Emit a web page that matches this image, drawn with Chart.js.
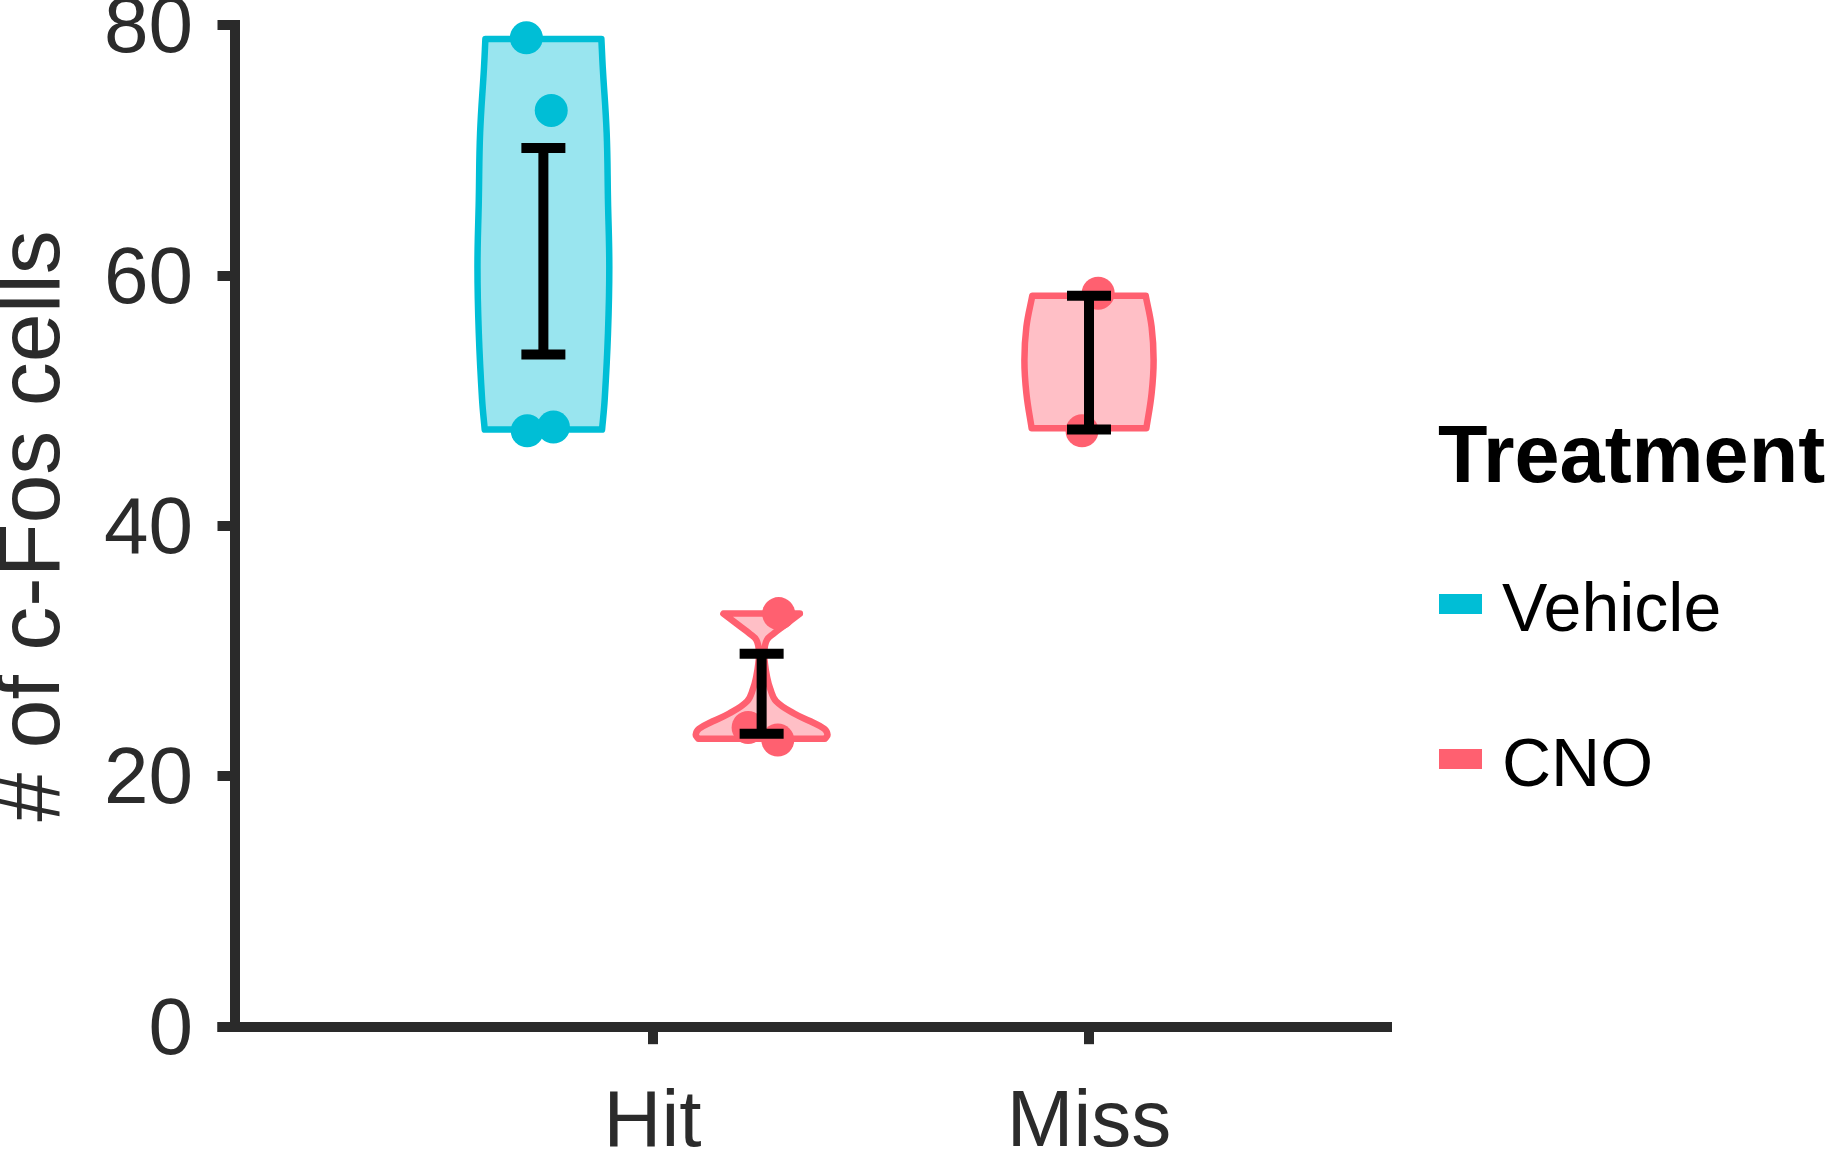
<!DOCTYPE html>
<html>
<head>
<meta charset="utf-8">
<script src="https://cdn.jsdelivr.net/npm/chart.js@4.4.1/dist/chart.umd.min.js"></script>
<style>
  html, body { margin: 0; padding: 0; background: #ffffff; overflow: hidden; }
  #wrap { width: 1825px; height: 1151px; position: relative; }
  canvas { display: block; }
</style>
</head>
<body>
<div id="wrap"><canvas id="chart" width="1825" height="1151"></canvas></div>
<script>
// ---------------- data ----------------
const categories = ['Hit', 'Miss'];
const treatments = ['Vehicle', 'CNO'];
const yTicks = [0, 20, 40, 60, 80];
const yTitle = '# of c-Fos cells';
const legendTitle = 'Treatment';

// individual animals (# of c-Fos cells) and their horizontal jitter (category units)
const vehicleHitCounts = [79.0, 73.2, 47.6, 47.9];
const vehicleHitJitter = [-0.039, 0.018, -0.037, 0.023];
const cnoHitCounts = [33.0, 23.9, 22.9];
const cnoHitJitter = [0.039, -0.031, 0.037];
const cnoMissCounts = [58.6, 47.6];
const cnoMissJitter = [0.021, -0.016];

// mean ± SE  [low, high]
const vehicleHitSE = [53.7, 70.2];
const cnoHitSE = [23.4, 29.8];
const cnoMissSE = [47.7, 58.4];

// violin density profiles: y levels and relative width (max = 1)
const vehicleHitViolinY = [78.9, 76.7, 71.4, 66.0, 60.7, 55.4, 50.1, 47.7];
const vehicleHitViolinW = [0.88, 0.90, 0.96, 0.98, 1.00, 0.98, 0.93, 0.89];
const cnoHitViolinY = [33.0, 32.6, 32.0, 31.4, 30.9, 30.0, 29.0, 28.0, 27.0, 26.0, 25.0, 24.4, 23.8, 23.3, 23.0];
const cnoHitViolinW = [0.58, 0.48, 0.33, 0.18, 0.08, 0.04, 0.05, 0.08, 0.13, 0.22, 0.50, 0.74, 0.95, 1.00, 0.96];
const cnoMissViolinY = [58.4, 55.9, 53.25, 50.6, 47.8];
const cnoMissViolinW = [0.86, 0.95, 0.98, 0.95, 0.87];

// ---------------- styles ----------------
const FONT = '"Liberation Sans", Arial, Helvetica, sans-serif';
const AXIS = '#2a2a2a';
const TEXT = '#2b2b2b';
const strokeColors = { Vehicle: '#00BED6', CNO: '#FF6070' };
const fillColors = { Vehicle: 'rgba(0,190,214,0.40)', CNO: 'rgba(255,96,112,0.40)' };
const DODGE = 0.5;
const VIOLIN_HALF = 0.151;

const groups = [
  { treatment: 'Vehicle', category: 'Hit', counts: vehicleHitCounts, jitter: vehicleHitJitter, se: vehicleHitSE, vy: vehicleHitViolinY, vw: vehicleHitViolinW },
  { treatment: 'CNO', category: 'Hit', counts: cnoHitCounts, jitter: cnoHitJitter, se: cnoHitSE, vy: cnoHitViolinY, vw: cnoHitViolinW },
  { treatment: 'CNO', category: 'Miss', counts: cnoMissCounts, jitter: cnoMissJitter, se: cnoMissSE, vy: cnoMissViolinY, vw: cnoMissViolinW }
];

// dodge position of every group inside its category
function groupCenter(g) {
  const inCat = groups.filter(o => o.category === g.category)
    .sort((a, b) => treatments.indexOf(a.treatment) - treatments.indexOf(b.treatment));
  const k = inCat.indexOf(g), n = inCat.length;
  return categories.indexOf(g.category) + 1 + (k - (n - 1) / 2) * DODGE;
}

const datasets = [];
groups.forEach(g => {
  const cx = groupCenter(g);
  const last = g.vy.length - 1;
  // violin outline: right side down, left side up; trimmed corners repeated so they stay sharp
  const outline = [];
  g.vy.forEach((y, i) => {
    const p = { x: cx + g.vw[i] * VIOLIN_HALF, y };
    outline.push(p);
    if (i === 0 || i === last) outline.push(p);
  });
  for (let i = last; i >= 0; i--) {
    const p = { x: cx - g.vw[i] * VIOLIN_HALF, y: g.vy[i] };
    outline.push(p);
    if (i === 0 || i === last) outline.push(p);
  }
  outline.push(outline[0]);
  datasets.push({
    type: 'line', label: g.treatment + ' violin', data: outline,
    borderColor: strokeColors[g.treatment], backgroundColor: fillColors[g.treatment],
    borderWidth: 6.5, borderJoinStyle: 'round', borderCapStyle: 'round', fill: 'shape', tension: 0.4,
    pointRadius: 0, pointHoverRadius: 0, order: 2, clip: false
  });
  // jittered points
  datasets.push({
    type: 'scatter', label: g.treatment + ' points',
    data: g.counts.map((v, i) => ({ x: cx + g.jitter[i], y: v })),
    backgroundColor: strokeColors[g.treatment], borderWidth: 0,
    pointRadius: 16.5, pointHoverRadius: 16.5, order: 1, clip: false
  });
  // mean ± SE error bar
  datasets.push({
    type: 'line', label: g.treatment + ' SE',
    data: [{ x: cx, y: g.se[0] }, { x: cx, y: g.se[1] }],
    borderColor: '#000000', borderWidth: 10, fill: false,
    pointStyle: 'line', pointRadius: 22, pointHoverRadius: 22,
    pointBorderWidth: 10, pointBorderColor: '#000000', pointBackgroundColor: '#000000',
    order: 0, clip: false
  });
});

// custom legend + x-axis line extension
const extrasPlugin = {
  id: 'extras',
  afterDraw(chart) {
    const ctx = chart.ctx, a = chart.chartArea;
    ctx.save();
    // x axis line continues under the y tick column
    ctx.fillStyle = AXIS;
    ctx.fillRect(a.left - 17.5, Math.round(a.bottom - 5), 17.5, 10);
    // legend
    ctx.fillStyle = '#000000';
    ctx.textBaseline = 'alphabetic';
    ctx.textAlign = 'left';
    ctx.font = 'bold 81px ' + FONT;
    ctx.fillText(legendTitle, 1438, 482);
    ctx.font = '68px ' + FONT;
    treatments.forEach((t, i) => {
      const cy = 604 + i * 155;
      ctx.fillStyle = strokeColors[t];
      ctx.fillRect(1439, cy - 10, 43, 20);
      ctx.fillStyle = '#000000';
      ctx.fillText(t, 1502, cy + 27);
    });
    ctx.restore();
  }
};

const gridCommon = {
  drawOnChartArea: false, drawTicks: true, tickLength: 17.5, tickWidth: 10,
  tickColor: AXIS, lineWidth: 10, color: AXIS
};

new Chart(document.getElementById('chart'), {
  type: 'scatter',
  data: { datasets },
  plugins: [extrasPlugin],
  options: {
    responsive: false,
    animation: false,
    events: [],
    devicePixelRatio: 1,
    layout: { autoPadding: false, padding: { left: 0, top: 25.3, right: 438, bottom: 0 } },
    plugins: { legend: { display: false }, tooltip: { enabled: false } },
    scales: {
      x: {
        type: 'linear', min: 0.0435, max: 2.6827,
        afterBuildTicks: s => { s.ticks = categories.map((c, i) => ({ value: i + 1 })); },
        ticks: {
          callback: (v, i) => categories[i], autoSkip: false, maxRotation: 0, minRotation: 0,
          font: { family: FONT, size: 80 }, color: TEXT, padding: 32
        },
        grid: gridCommon,
        border: { display: true, color: AXIS, width: 10 },
        afterFit: s => { s.height = 124.3; s.paddingLeft = 0; s.paddingRight = 0; s.paddingTop = 0; s.paddingBottom = 0; }
      },
      y: {
        type: 'linear', min: 0, max: 80,
        afterBuildTicks: s => { s.ticks = yTicks.map(v => ({ value: v })); },
        ticks: { font: { family: FONT, size: 80 }, color: TEXT, padding: 24.5, labelOffset: 5 },
        grid: gridCommon,
        border: { display: true, color: AXIS, width: 10 },
        title: {
          display: true, text: yTitle, color: TEXT,
          font: { family: FONT, size: 88 }, padding: { top: -17.8, bottom: 0 }
        },
        afterFit: s => { s.width = 235; s.paddingLeft = 0; s.paddingRight = 0; s.paddingTop = 0; s.paddingBottom = 0; }
      }
    }
  }
});
</script>
</body>
</html>
